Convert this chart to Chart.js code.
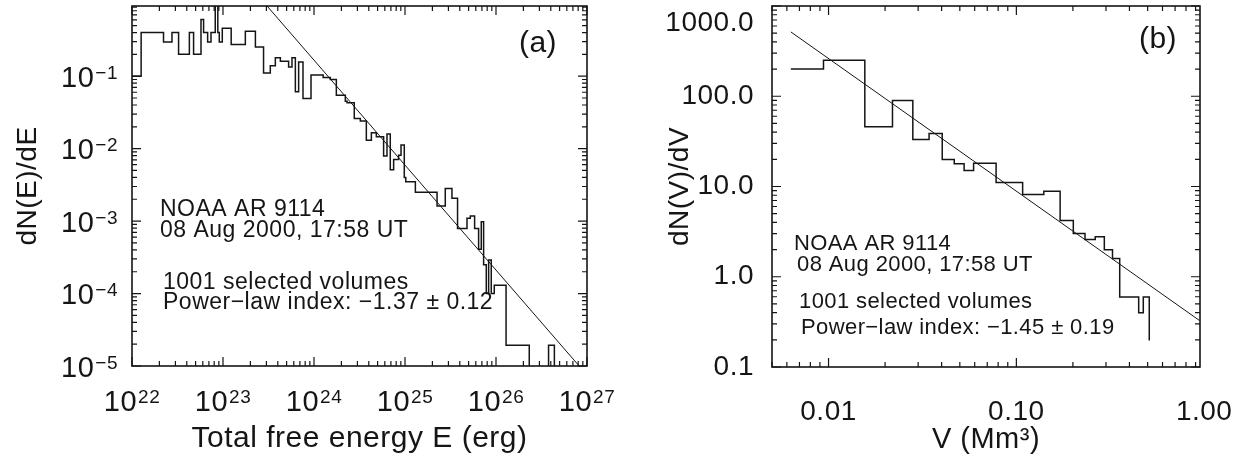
<!DOCTYPE html>
<html>
<head>
<meta charset="utf-8">
<script src="https://cdn.jsdelivr.net/npm/chart.js@4.4.1/dist/chart.umd.min.js"></script>
<style>
  body { margin: 0; background: #fff; }
  .panel { position: absolute; top: 0; width: 625px; height: 465px; }
</style>
</head>
<body>
<div class="panel" style="left:0"><canvas id="chartA"></canvas></div>
<div class="panel" style="left:625px"><canvas id="chartB"></canvas></div>
<script>
// (a) free energy histogram: bin left edges (erg) and dN(E)/dE, 0 = empty bin
const energyEdges = [
  1.00e22, 1.26e22, 2.22e22, 2.75e22, 3.25e22, 4.27e22, 4.75e22, 5.73e22, 6.12e22, 6.78e22, 7.38e22, 8.22e22, 8.77e22, 9.10e22, 9.82e22,
  1.23e23, 1.76e23, 2.27e23, 2.79e23, 3.31e23, 3.76e23, 4.27e23, 5.26e23, 5.73e23, 6.24e23, 6.78e23, 7.57e23, 9.27e23,
  1.26e24, 1.51e24, 1.76e24, 2.21e24, 2.31e24, 2.77e24, 3.23e24, 3.76e24, 4.27e24, 4.84e24, 5.82e24, 6.34e24, 6.89e24, 7.50e24, 8.51e24, 9.04e24, 9.82e24,
  1.02e25, 1.30e25, 2.25e25, 2.77e25, 3.28e25, 3.78e25, 4.80e25, 5.22e25, 5.82e25, 6.44e25, 6.89e25, 7.31e25, 7.82e25, 8.30e25, 8.87e25, 9.57e25,
  1.29e26, 2.32e26, 3.78e26, 4.38e26
];
const energyDensity = [
  0.100, 0.40, 0.297, 0.40, 0.20, 0.40, 0.20, 0.605, 0.40, 0.297, 0.40, 1.5, 0.40, 0.297, 0.46,
  0.274, 0.418, 0.253, 0.111, 0.139, 0.179, 0.161, 0.134, 0.179, 0.0608, 0.157, 0.0492, 0.104,
  0.096, 0.090, 0.0547, 0.0452, 0.0429, 0.0261, 0.024, 0.0131, 0.0165, 0.0146, 0.0079, 0.0159, 0.0051, 0.0071, 0.0081, 0.0112, 0.0040,
  0.00348, 0.0025, 0.00161, 0.00282, 0.00206, 7.9e-4, 1.09e-3, 1.18e-3, 7.9e-4, 4.07e-4, 9.8e-4, 2.5e-4, 1.0e-4, 2.9e-4, 1.0e-4, 1.3e-4,
  1.94e-5, 0, 1.94e-5, 0
];
const energyFitE = [3.05e23, 8.2e26];
const energyFitN = [0.93, 1e-5];
const energyXTicks = [1e22, 1e23, 1e24, 1e25, 1e26, 1e27];
const energyYTicks = [1e-5, 1e-4, 1e-3, 1e-2, 1e-1];

// (b) volume histogram: bin left edges (Mm^3) and dN(V)/dV
const volumeEdges = [0.0063, 0.0094, 0.0156, 0.0219, 0.0281, 0.0343, 0.0403, 0.0467, 0.0527, 0.0592, 0.078,
  0.108, 0.140, 0.171, 0.201, 0.232, 0.263, 0.294, 0.325, 0.355, 0.448, 0.474, 0.51];
const volumeDensity = [201, 250, 45.8, 89.6, 33.1, 38.6, 19.9, 17.9, 15.0, 18.1, 11.1,
  8.15, 8.86, 4.2, 3.01, 2.58, 2.77, 1.99, 1.59, 0.598, 0.398, 0.598, 0.196];
const volumeFitV = [0.0063, 0.945];
const volumeFitN = [516, 0.327];
const volumeXTicks = [0.01, 0.1, 1];
const volumeYTicks = [0.1, 1, 10, 100, 1000];

const FONT = "'Liberation Sans', Arial, sans-serif";
const INK = '#151515';
const EMPTY = 1e-7; // empty bins sit below the axis floor

const spacing = {
  id: 'spacing',
  beforeDraw(chart) { chart.ctx.letterSpacing = '0.5px'; }
};

// IDL style frame: box with inward major/minor ticks on all sides
const frame = {
  id: 'frame',
  afterDatasetsDraw(chart) {
    const {ctx, chartArea: a, scales: {x, y}} = chart;
    ctx.save();
    ctx.strokeStyle = INK;
    ctx.lineWidth = 1.6;
    ctx.strokeRect(a.left, a.top, a.right - a.left, a.bottom - a.top);
    ctx.lineWidth = 1.2;
    ctx.beginPath();
    const each = (s, fn) => {
      for (let d = Math.floor(Math.log10(s.min)); d <= Math.ceil(Math.log10(s.max)); d++) {
        for (let m = 1; m <= 9; m++) {
          const v = d >= 0 ? m * 10 ** d : m / 10 ** (-d);
          if (v < s.min * 0.999 || v > s.max * 1.001) continue;
          fn(s.getPixelForValue(v), m === 1 ? 9 : 5);
        }
      }
    };
    each(x, (p, len) => {
      ctx.moveTo(p, a.bottom); ctx.lineTo(p, a.bottom - len);
      ctx.moveTo(p, a.top); ctx.lineTo(p, a.top + len);
    });
    each(y, (p, len) => {
      ctx.moveTo(a.left, p); ctx.lineTo(a.left + len, p);
      ctx.moveTo(a.right, p); ctx.lineTo(a.right - len, p);
    });
    ctx.stroke();
    ctx.restore();
  }
};

// power-of-ten tick labels with a real raised exponent
const powerLabels = {
  id: 'powerLabels',
  afterDraw(chart, args, o) {
    if (!o.on) return;
    const {ctx, chartArea: a, scales: {x, y}} = chart;
    ctx.save();
    ctx.fillStyle = INK;
    ctx.textBaseline = 'alphabetic';
    ctx.textAlign = 'left';
    const put = (v, px, base, align) => {
      const exp = String(Math.round(Math.log10(v))).replace('-', '\u2212');
      const sp = exp.length > 2 ? '1.5px' : '0.5px';
      ctx.letterSpacing = '0.5px';
      ctx.font = '29px ' + FONT;
      const wb = ctx.measureText('10').width + 1;
      ctx.letterSpacing = sp;
      ctx.font = '19px ' + FONT;
      const we = ctx.measureText(exp).width;
      const left = align === 'center' ? px - (wb + we) / 2 : px - wb - we;
      ctx.letterSpacing = '0.5px';
      ctx.font = '29px ' + FONT;
      ctx.fillText('10', left, base);
      ctx.letterSpacing = sp;
      ctx.font = '19px ' + FONT;
      ctx.fillText(exp, left + wb, base - 8);
    };
    x.ticks.forEach(t => put(t.value, x.getPixelForValue(t.value), a.bottom + 45, 'center'));
    y.ticks.forEach(t => put(t.value, a.left - 14, y.getPixelForValue(t.value) + 10.5, 'right'));
    ctx.restore();
  }
};

const notes = {
  id: 'notes',
  afterDraw(chart, args, o) {
    const ctx = chart.ctx;
    ctx.save();
    ctx.fillStyle = INK;
    ctx.letterSpacing = o.spacing + 'px';
    ctx.font = o.size + 'px ' + FONT;
    ctx.textBaseline = 'alphabetic';
    o.lines.forEach(l => ctx.fillText(l[0], l[1], l[2]));
    ctx.font = o.tagSize + 'px ' + FONT;
    ctx.textAlign = 'center';
    ctx.textBaseline = 'middle';
    ctx.fillText(o.tag, o.tagX, o.tagY);
    ctx.restore();
  }
};

function steps(edges, vals) {
  return edges.map((e, i) => ({x: e, y: vals[i] > 0 ? vals[i] : EMPTY}));
}

function makeChart(id, cfg) {
  return new Chart(document.getElementById(id), {
    type: 'line',
    data: {
      datasets: [
        {data: steps(cfg.edges, cfg.vals), stepped: 'before', borderColor: INK, borderWidth: 1.5,
         pointRadius: 0, fill: false},
        {data: cfg.fitX.map((v, i) => ({x: v, y: cfg.fitY[i]})), borderColor: INK, borderWidth: 1,
         pointRadius: 0, fill: false}
      ]
    },
    options: {
      responsive: true,
      maintainAspectRatio: false,
      animation: false,
      layout: {padding: cfg.pad},
      plugins: {legend: {display: false}, tooltip: {enabled: false}, notes: cfg.notes,
                powerLabels: {on: cfg.powerLabels}},
      scales: {
        x: {
          type: 'logarithmic', min: cfg.xMin, max: cfg.xMax,
          grid: {display: false}, border: {display: false},
          afterBuildTicks: s => { s.ticks = cfg.xTicks.map(v => ({value: v})); },
          afterFit: s => { s.height = cfg.xHeight; s.paddingLeft = 0; s.paddingRight = 0; },
          ticks: {display: !cfg.powerLabels, autoSkip: false, maxRotation: 0, padding: cfg.xPad, color: INK,
                  font: {family: FONT, size: 28}, callback: cfg.xLabel},
          title: {display: true, text: cfg.xTitle, color: INK, font: {family: FONT, size: cfg.xTitleSize},
                  padding: {top: 0, bottom: 8}}
        },
        y: {
          type: 'logarithmic', min: cfg.yMin, max: cfg.yMax,
          grid: {display: false}, border: {display: false},
          afterBuildTicks: s => { s.ticks = cfg.yTicks.map(v => ({value: v})); },
          afterFit: s => { s.width = cfg.yWidth; s.paddingTop = 0; s.paddingBottom = 0; },
          ticks: {display: !cfg.powerLabels, autoSkip: false, padding: cfg.yPad, color: INK,
                  font: {family: FONT, size: 28}, callback: cfg.yLabel},
          title: {display: true, text: cfg.yTitle, color: INK, font: {family: FONT, size: 28},
                  padding: {top: cfg.yTitlePad, bottom: 0}}
        }
      }
    },
    plugins: [spacing, frame, powerLabels, notes]
  });
}

makeChart('chartA', {
  edges: energyEdges, vals: energyDensity, fitX: energyFitE, fitY: energyFitN,
  xMin: 1e22, xMax: 1e27, yMin: 1e-5, yMax: 0.93,
  xTicks: energyXTicks, yTicks: energyYTicks, powerLabels: true,
  xTitle: 'Total free energy E (erg)', yTitle: 'dN(E)/dE', xTitleSize: 30,
  pad: {left: 0, top: 6, right: 38, bottom: 0},
  xHeight: 99, yWidth: 132, xPad: 17, yPad: 14, yTitlePad: 11,
  notes: {
    size: 23, spacing: 0.5,
    lines: [['NOAA AR 9114', 160, 216], ['08 Aug 2000, 17:58 UT', 160, 237],
            ['1001 selected volumes', 163, 289], ['Power\u2212law index: \u22121.37 \u00B1 0.12', 163, 309]],
    tag: '(a)', tagSize: 30, tagX: 538, tagY: 44
  }
});

makeChart('chartB', {
  edges: volumeEdges, vals: volumeDensity, fitX: volumeFitV, fitY: volumeFitN,
  xMin: 0.005, xMax: 0.95, yMin: 0.1, yMax: 1000,
  xTicks: volumeXTicks, yTicks: volumeYTicks, powerLabels: false,
  xLabel: v => v.toFixed(2), yLabel: v => v === 1000 ? ['', v.toFixed(1)] : v.toFixed(1),
  xTitle: 'V (Mm\u00B3)', yTitle: 'dN(V)/dV', xTitleSize: 29,
  pad: {left: 0, top: 6, right: 50, bottom: 0},
  xHeight: 98, yWidth: 147, xPad: 20, yPad: 10, yTitlePad: 38,
  notes: {
    size: 22, spacing: 0.4,
    lines: [['NOAA AR 9114', 169, 250], ['08 Aug 2000, 17:58 UT', 172, 271],
            ['1001 selected volumes', 174, 308], ['Power\u2212law index: \u22121.45 \u00B1 0.19', 176, 334]],
    tag: '(b)', tagSize: 30, tagX: 533, tagY: 40
  }
});
</script>
</body>
</html>
